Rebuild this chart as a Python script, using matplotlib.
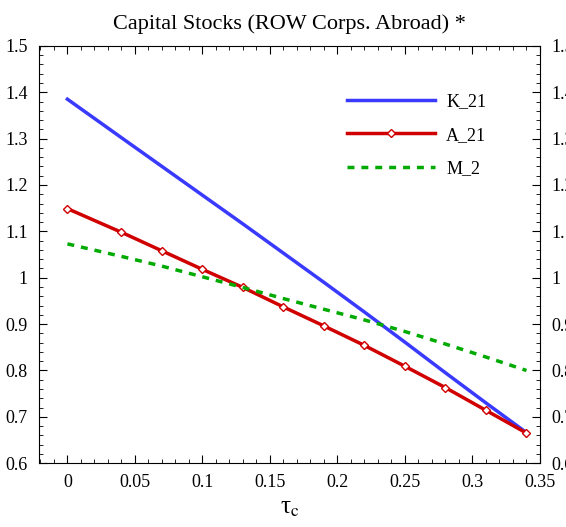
import numpy as np
import matplotlib
matplotlib.use("Agg")
import matplotlib.pyplot as plt
from matplotlib.ticker import MultipleLocator

plt.rcParams['font.family'] = ['Liberation Serif', 'DejaVu Serif']
plt.rcParams['mathtext.fontset'] = 'stix'

# ===== Datos =====
tau  = [0.0, 0.04, 0.07, 0.10, 0.13, 0.16, 0.19, 0.22, 0.25, 0.28, 0.31, 0.34]
k_21 = [1.385, 1.302, 1.240, 1.178, 1.116, 1.053, 0.990, 0.926, 0.861, 0.795, 0.730, 0.666]
a_21 = [1.149, 1.098, 1.058, 1.018, 0.979, 0.937, 0.896, 0.854, 0.809, 0.763, 0.714, 0.665]
m_2  = [1.073, 1.046, 1.025, 1.002, 0.979, 0.955, 0.932, 0.909, 0.884, 0.857, 0.829, 0.800]

fig = plt.figure(figsize=(5.66, 5.27), dpi=100)
ax = fig.add_axes([0.069, 0.121, 0.885, 0.792])

ax.plot(tau, k_21, color="#3a3aff", lw=2.5, label="K_21")
ax.plot(tau, a_21, color="#d00000", lw=2.5, marker="D", ms=4.5,
        mfc="white", mec="#d00000", mew=1.0, label="A_21")
ax.plot(tau, m_2, color="#00aa00", lw=2.5, ls=(0, (2, 2)), label="M_2")

ax.set_xlim(-0.021, 0.35)
ax.set_ylim(0.6, 1.5)
ax.xaxis.set_minor_locator(MultipleLocator(0.01))
ax.yaxis.set_minor_locator(MultipleLocator(0.02))
ax.set_xticks(np.arange(0, 0.351, 0.05))
ax.set_xticklabels(["0", "0.05", "0.1", "0.15", "0.2", "0.25", "0.3", "0.35"])
ylabs = ["0.6", "0.7", "0.8", "0.9", "1", "1.1", "1.2", "1.3", "1.4", "1.5"]
ax.set_yticks(np.arange(0.6, 1.51, 0.1))
ax.set_yticklabels(ylabs)

ax.tick_params(which="both", direction="in", top=True, right=True,
               labelright=True, labelsize=13, pad=8)
ax.tick_params(which="major", length=6)
ax.tick_params(which="minor", length=3)

ax.set_title("Capital Stocks (ROW Corps. Abroad) *", fontsize=16, pad=12)
ax.set_xlabel("τ$_\\mathrm{c}$", fontsize=18, labelpad=4)

ax.legend(loc="upper right", bbox_to_anchor=(0.925, 0.925), frameon=False,
          fontsize=13, handlelength=4.9, labelspacing=0.9, handletextpad=0.6)

fig.savefig("out.png", dpi=100)
